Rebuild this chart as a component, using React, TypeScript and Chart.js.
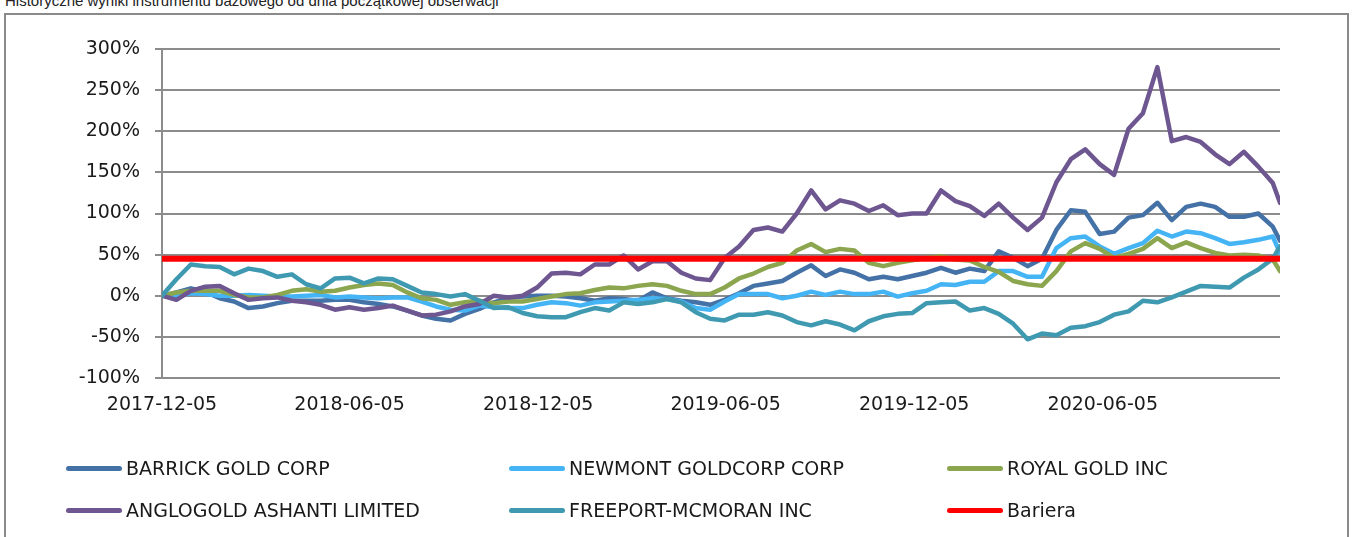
import React, { useEffect, useRef } from 'react';
import { Chart, registerables } from 'chart.js';

Chart.register(...registerables);

const title = 'Historyczne wyniki instrumentu bazowego od dnia początkowej obserwacji';
const startDate = '2017-12-05';
const endDate = '2020-11-24';
const tickLabels = ['2017-12-05', '2018-06-05', '2018-12-05', '2019-06-05', '2019-12-05', '2020-06-05'];
const yTicks = [-100, -50, 0, 50, 100, 150, 200, 250, 300];

const dayOf = (d: string) => Math.round((Date.parse(d) - Date.parse(startDate)) / 86400000);
const endDay = dayOf(endDate);
// observation grid: every two weeks from the start date, plus the last observation
const sampleDays: number[] = [];
for (let d = 0; d < endDay - 3; d += 14) sampleDays.push(d);
sampleDays.push(endDay);

const barrick = [
  0, 4, 9, 5, -3, -7, -15, -13, -9, -6,
  -6, -6, -5, -5, -8, -10, -13, -18, -24, -28,
  -30, -22, -16, -8, -3, -1, 0, 0, -1, -3,
  -6, -3, -4, -6, 4, -3, -6, -8, -11, -5,
  3, 12, 15, 18, 28, 37, 24, 32, 28, 20,
  23, 20, 24, 28, 34, 28, 33, 30, 54, 46,
  36, 45, 80, 104, 102, 75, 78, 95, 98, 113,
  92, 108, 112, 108, 96, 96, 100, 84, 67,
];
const newmont = [
  0, -1, 3, 2, 0, 0, 1, 0, -1, -1,
  0, 1, -2, -1, -2, -3, -2, -2, -7, -13,
  -17, -18, -12, -14, -15, -15, -11, -8, -9, -12,
  -8, -7, -6, -5, -3, -4, -7, -15, -17, -7,
  2, 2, 2, -3, 0, 5, 1, 5, 2, 2,
  5, -1, 3, 6, 14, 13, 17, 17, 30, 30,
  23, 23, 58, 70, 72, 60, 51, 58, 64, 79,
  72, 78, 76, 70, 63, 65, 68, 72, 52,
];
const royalGold = [
  0, 4, 6, 6, 6, 1, -2, -2, 1, 6,
  8, 5, 6, 10, 13, 15, 13, 4, -3, -5,
  -11, -8, -6, -9, -7, -7, -4, -1, 2, 3,
  7, 10, 9, 12, 14, 12, 6, 2, 2, 10,
  21, 27, 35, 40, 55, 63, 53, 57, 55, 40,
  36, 40, 43, 46, 48, 44, 43, 35, 29, 18,
  14, 12, 30, 54, 64, 57, 46, 51, 57, 70,
  58, 65, 58, 52, 49, 50, 49, 44, 30,
];
const anglogold = [
  0, -5, 6, 11, 12, 3, -5, -3, -2, -6,
  -8, -11, -17, -14, -17, -15, -12, -18, -24, -23,
  -19, -13, -10, 0, -2, 0, 10, 27, 28, 26,
  38, 38, 49, 32, 42, 42, 28, 21, 19, 46,
  60, 80, 83, 78, 100, 128, 105, 116, 112, 103,
  110, 98, 100, 100, 128, 115, 109, 97, 112, 95,
  80, 95, 138, 166, 178, 160, 147, 203, 222, 278,
  188, 193, 187, 172, 160, 175, 157, 137, 113,
];
const freeport = [
  0, 20, 38, 36, 35, 26, 33, 30, 23, 26,
  14, 9, 21, 22, 15, 21, 20, 12, 4, 2,
  -1, 2, -6, -15, -14, -21, -25, -26, -26, -20,
  -15, -18, -8, -10, -8, -4, -8, -20, -28, -30,
  -23, -23, -20, -24, -32, -36, -31, -35, -42, -31,
  -25, -22, -21, -9, -8, -7, -18, -15, -22, -34,
  -53, -46, -48, -39, -37, -32, -23, -19, -6, -8,
  -2, 5, 12, 11, 10, 22, 32, 45, 60,
];
const barrierLevel = 45;

const seriesNames = [
  'BARRICK GOLD CORP',
  'NEWMONT GOLDCORP CORP',
  'ROYAL GOLD INC',
  'ANGLOGOLD ASHANTI LIMITED',
  'FREEPORT-MCMORAN INC',
  'Bariera',
];
const seriesColors = ['#4471A6', '#45B4F4', '#8BA64F', '#6E5690', '#3F9AB1', '#FF0000'];

const FONT = '"DejaVu Sans", sans-serif';

const toPoints = (vals: number[]) => vals.map((v, i) => ({ x: sampleDays[i], y: v }));

export default function App() {
  const ref = useRef<HTMLCanvasElement | null>(null);

  useEffect(() => {
    document.body.style.margin = '0';
    const ctx = ref.current!.getContext('2d')!;
    const line = (name: number, data: any[], width: number) => ({
      label: seriesNames[name],
      data,
      borderColor: seriesColors[name],
      backgroundColor: seriesColors[name],
      borderWidth: width,
      pointRadius: 0,
      tension: 0,
      fill: false,
      borderJoinStyle: 'round' as const,
      borderCapStyle: 'round' as const,
    });
    // first dataset is drawn on top in Chart.js
    const datasets = [
      line(5, [{ x: 0, y: barrierLevel }, { x: endDay, y: barrierLevel }], 6),
      line(4, toPoints(freeport), 4.5),
      line(3, toPoints(anglogold), 4.5),
      line(2, toPoints(royalGold), 4.5),
      line(1, toPoints(newmont), 4.5),
      line(0, toPoints(barrick), 4.5),
    ];
    const chart = new Chart(ctx, {
      type: 'line',
      data: { datasets },
      options: {
        animation: false,
        responsive: false,
        events: [],
        layout: { padding: { left: 0, right: 75, top: 49, bottom: 119 } },
        plugins: { legend: { display: false }, tooltip: { enabled: false } },
        scales: {
          x: {
            type: 'linear',
            min: 0,
            max: endDay,
            grid: { display: false, drawTicks: false },
            border: { display: false },
            afterBuildTicks: (scale: any) => {
              scale.ticks = tickLabels.map((l) => ({ value: dayOf(l) }));
            },
            afterFit: (scale: any) => {
              scale.height = 40;
            },
            ticks: {
              autoSkip: false,
              maxRotation: 0,
              padding: 16,
              color: '#1a1a1a',
              font: { family: FONT, size: 19 },
              callback: (v: any) => {
                const idx = tickLabels.findIndex((l) => dayOf(l) === v);
                return idx >= 0 ? tickLabels[idx] : '';
              },
            },
          },
          y: {
            min: -100,
            max: 300,
            afterBuildTicks: (scale: any) => {
              scale.ticks = yTicks.map((v) => ({ value: v }));
            },
            afterFit: (scale: any) => {
              scale.width = 162;
            },
            grid: { color: '#8c8c8c', lineWidth: 2, tickLength: 7, drawTicks: true },
            border: { display: true, color: '#8c8c8c', width: 2 },
            ticks: {
              padding: 15,
              color: '#1a1a1a',
              font: { family: FONT, size: 19 },
              callback: (v: any) => v + '%',
            },
          },
        },
      },
    });
    return () => chart.destroy();
  }, []);

  const legendRows = [
    [0, 1, 2],
    [3, 4, 5],
  ];
  const colLine = [66, 509, 947];
  const rowY = [468, 510];

  return (
    <div style={{ position: 'fixed', left: 0, top: 0, width: 1355, height: 537, overflow: 'hidden', background: '#fff' }}>
      <div
        style={{
          position: 'absolute',
          left: 5,
          top: -8,
          fontFamily: '"Liberation Sans", Arial, sans-serif',
          fontSize: 15,
          color: '#222',
          whiteSpace: 'nowrap',
        }}
      >
        {title}
      </div>
      <div
        style={{
          position: 'absolute',
          left: 4,
          top: 13,
          width: 1341,
          height: 560,
          border: '2px solid #8a8a8a',
        }}
      />
      <canvas ref={ref} width={1355} height={537} style={{ position: 'absolute', left: 0, top: 0, display: 'block' }} />
      {legendRows.map((row, r) =>
        row.map((s, c) => (
          <div
            key={s}
            style={{
              position: 'absolute',
              left: colLine[c],
              top: rowY[r] - 12,
              height: 24,
              display: 'flex',
              alignItems: 'center',
              whiteSpace: 'nowrap',
            }}
          >
            <span
              style={{
                display: 'inline-block',
                width: 56,
                height: 5,
                borderRadius: 3,
                background: seriesColors[s],
                marginRight: 4,
              }}
            />
            <span style={{ fontFamily: FONT, fontSize: 19, color: '#1a1a1a' }}>{seriesNames[s]}</span>
          </div>
        ))
      )}
    </div>
  );
}
